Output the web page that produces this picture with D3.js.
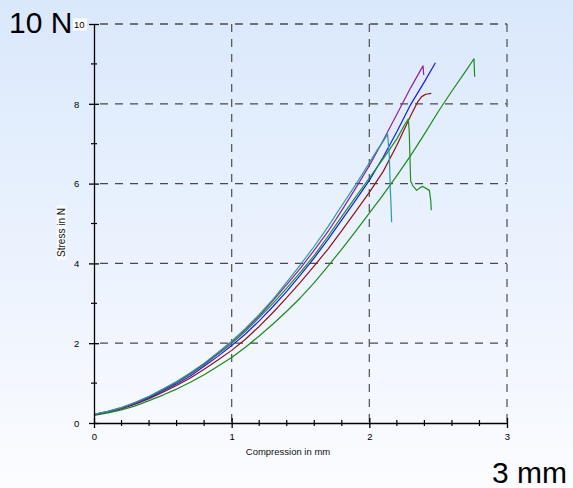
<!DOCTYPE html>
<html>
<head>
<meta charset="utf-8">
<script src="https://cdn.jsdelivr.net/npm/d3@7"></script>
<style>
  html, body { margin: 0; padding: 0; }
  svg { display: block; }
  text { font-family: "Liberation Sans", Arial, sans-serif; }
</style>
</head>
<body>
<svg id="chart" width="573" height="488"></svg>
<script>
// Axis ticks and labels
const xTicks = [0, 1, 2, 3];
const yTicks = [0, 2, 4, 6, 8, 10];
const xMinorStep = 0.2;
const yMinorStep = 1;
const xTitle = "Compression  in mm";
const yTitle = "Stress in N";
const yUnitLabel = "10 N";
const xUnitLabel = "3 mm";

// Force–compression curves, [mm, N]
const tealCurve = [[0,0.22],[0.1,0.29],[0.2,0.39],[0.3,0.52],[0.4,0.67],[0.5,0.85],[0.6,1.04],[0.7,1.26],[0.8,1.5],[0.9,1.77],[1.0,2.05],[1.1,2.37],[1.2,2.72],[1.3,3.1],[1.4,3.53],[1.5,3.97],[1.6,4.43],[1.7,4.92],[1.8,5.45],[1.9,5.97],[2.0,6.52],[2.06,6.86],[2.1,7.05],[2.133,7.24],[2.145,6.7],[2.152,5.9],[2.157,5.5],[2.162,5.03]];
const purpleCurve = [[0,0.22],[0.1,0.29],[0.2,0.38],[0.3,0.51],[0.4,0.66],[0.5,0.84],[0.6,1.03],[0.7,1.24],[0.8,1.48],[0.9,1.75],[1.0,2.03],[1.1,2.34],[1.2,2.68],[1.3,3.07],[1.4,3.47],[1.5,3.88],[1.6,4.33],[1.7,4.8],[1.8,5.33],[1.9,5.88],[2.0,6.45],[2.1,7.08],[2.2,7.74],[2.3,8.4],[2.39,8.95],[2.395,8.72]];
const green2Curve = [[0,0.21],[0.1,0.28],[0.2,0.38],[0.3,0.5],[0.4,0.65],[0.5,0.83],[0.6,1.01],[0.7,1.22],[0.8,1.46],[0.9,1.72],[1.0,1.99],[1.1,2.3],[1.2,2.64],[1.3,3.0],[1.4,3.38],[1.5,3.78],[1.6,4.2],[1.7,4.68],[1.8,5.18],[1.9,5.66],[2.0,6.14],[2.1,6.62],[2.2,7.12],[2.26,7.5],[2.283,7.62],[2.29,7.3],[2.295,6.66],[2.3,6.07],[2.315,5.95],[2.344,5.83],[2.37,5.9],[2.388,5.93],[2.412,5.88],[2.436,5.83],[2.446,5.58],[2.45,5.33]];
const blueCurve = [[0,0.21],[0.1,0.28],[0.2,0.37],[0.3,0.49],[0.4,0.63],[0.5,0.8],[0.6,0.98],[0.7,1.18],[0.8,1.42],[0.9,1.67],[1.0,1.94],[1.1,2.23],[1.2,2.56],[1.3,2.92],[1.4,3.3],[1.5,3.71],[1.6,4.14],[1.7,4.6],[1.8,5.09],[1.9,5.58],[2.0,6.08],[2.1,6.66],[2.2,7.3],[2.3,7.98],[2.4,8.55],[2.48,9.03]];
const redCurve = [[0,0.2],[0.1,0.27],[0.2,0.36],[0.3,0.47],[0.4,0.61],[0.5,0.77],[0.6,0.94],[0.7,1.13],[0.8,1.35],[0.9,1.58],[1.0,1.82],[1.1,2.1],[1.2,2.42],[1.3,2.77],[1.4,3.14],[1.5,3.53],[1.6,3.94],[1.7,4.36],[1.8,4.82],[1.9,5.3],[2.0,5.78],[2.1,6.3],[2.2,6.96],[2.3,7.7],[2.35,8.04],[2.38,8.18],[2.41,8.24],[2.45,8.26]];
const green1Curve = [[0,0.19],[0.1,0.25],[0.2,0.33],[0.3,0.43],[0.4,0.56],[0.5,0.7],[0.6,0.85],[0.7,1.02],[0.8,1.21],[0.9,1.42],[1.0,1.64],[1.1,1.9],[1.2,2.18],[1.3,2.48],[1.4,2.8],[1.5,3.14],[1.6,3.52],[1.7,3.93],[1.8,4.36],[1.9,4.8],[2.0,5.26],[2.1,5.72],[2.2,6.2],[2.3,6.7],[2.4,7.24],[2.5,7.8],[2.6,8.32],[2.7,8.82],[2.76,9.13],[2.765,8.68]];

const seriesList = [
  { pts: green1Curve, color: "#1a8a1a" },
  { pts: redCurve,    color: "#8e1212" },
  { pts: blueCurve,   color: "#1a1af0" },
  { pts: green2Curve, color: "#1d901d" },
  { pts: purpleCurve, color: "#8e209e" },
  { pts: tealCurve,   color: "#2a9e9e" }
];

const W = 573, H = 488;
const svg = d3.select("#chart");

// background gradient
const defs = svg.append("defs");
const grad = defs.append("linearGradient").attr("id", "bg")
  .attr("x1", 0).attr("y1", 0).attr("x2", 0).attr("y2", 1);
grad.append("stop").attr("offset", "0%").attr("stop-color", "#dae8fc");
grad.append("stop").attr("offset", "100%").attr("stop-color", "#fbfcff");
svg.append("rect").attr("width", W).attr("height", H).attr("fill", "url(#bg)");

const x = d3.scaleLinear().domain([0, 3]).range([94, 507]);
const y = d3.scaleLinear().domain([0, 10]).range([423, 24]);

// dashed grid
const grid = svg.append("g")
  .attr("stroke", "#4a4a4a").attr("stroke-width", 1.3)
  .attr("stroke-dasharray", "8,7");
grid.selectAll(".gh").data(yTicks.filter(d => d > 0)).join("line")
  .attr("x1", x(0)).attr("x2", x(3))
  .attr("y1", d => y(d)).attr("y2", d => y(d))
  .attr("stroke-dashoffset", 9);
grid.selectAll(".gv").data(xTicks.filter(d => d > 0)).join("line")
  .attr("y1", y(10)).attr("y2", y(0) + 4)
  .attr("x1", d => x(d)).attr("x2", d => x(d))
  .attr("stroke", "#5a5a5a");

// curves
const line = d3.line().x(d => x(d[0])).y(d => y(d[1]));
svg.append("g").selectAll("path").data(seriesList).join("path")
  .attr("d", d => line(d.pts))
  .attr("fill", "none")
  .attr("stroke", d => d.color)
  .attr("stroke-width", 1.2)
  .attr("stroke-linejoin", "round");

// x axis
const xMinorVals = x.ticks(15).filter(v => Math.abs(v / xMinorStep - Math.round(v / xMinorStep)) < 1e-6);
const xAxis = svg.append("g").attr("transform", `translate(0,${y(0)})`)
  .call(d3.axisBottom(x).tickValues(xTicks).tickFormat(d3.format("d")).tickSizeOuter(0));
xAxis.select(".domain").attr("stroke", "#000").attr("stroke-width", 1.3);
xAxis.selectAll(".tick line").attr("y1", -5).attr("y2", 5).attr("stroke", "#000").attr("stroke-width", 1.3);
xAxis.selectAll(".tick text").attr("y", 17).attr("dy", 0).attr("font-size", 9.5).attr("fill", "#000")
  .style("font-family", "Liberation Sans, Arial, sans-serif");
xAxis.selectAll(".minor").data(xMinorVals.filter(v => !xTicks.includes(Math.round(v * 1000) / 1000))).join("line")
  .attr("x1", d => x(d)).attr("x2", d => x(d)).attr("y1", -3).attr("y2", 3)
  .attr("stroke", "#000").attr("stroke-width", 1.2);

// y axis
const yMinorVals = d3.range(0, 10 + 1e-9, yMinorStep).filter(v => !yTicks.includes(v));
const yAxis = svg.append("g").attr("transform", `translate(${x(0)},0)`)
  .call(d3.axisLeft(y).tickValues(yTicks).tickFormat(d3.format("d")).tickSizeOuter(0));
yAxis.select(".domain").attr("stroke", "#000").attr("stroke-width", 1.3);
yAxis.selectAll(".tick line").attr("x1", -5).attr("x2", 5).attr("stroke", "#000").attr("stroke-width", 1.3);
yAxis.selectAll(".tick").each(function (d) {
  const g = d3.select(this);
  if (d === 10) {
    g.insert("rect", "text").attr("x", -21).attr("y", -6).attr("width", 14).attr("height", 12).attr("fill", "#ffffff");
  }
});
yAxis.selectAll(".tick text").attr("x", -20).attr("dy", "0.34em").attr("text-anchor", "start")
  .attr("font-size", 9.5).attr("fill", "#000")
  .style("font-family", "Liberation Sans, Arial, sans-serif");
yAxis.selectAll(".minor").data(yMinorVals).join("line")
  .attr("y1", d => y(d)).attr("y2", d => y(d)).attr("x1", -3).attr("x2", 3)
  .attr("stroke", "#000").attr("stroke-width", 1.2);

// axis titles
svg.append("text").attr("x", 288).attr("y", 455).attr("text-anchor", "middle")
  .attr("font-size", 9.5).attr("fill", "#111").text(xTitle);
const yt = svg.append("g").attr("transform", "translate(61.5,232.5) rotate(-90)");
yt.append("rect").attr("x", -27).attr("y", -5).attr("width", 54).attr("height", 10).attr("fill", "#ffffff").attr("opacity", 0.7);
yt.append("text").attr("x", 0).attr("y", 0).attr("dy", "0.35em").attr("text-anchor", "middle")
  .attr("font-size", 10).attr("fill", "#111").text(yTitle);

// unit labels
svg.append("text").attr("x", 9).attr("y", 33).attr("font-size", 30).attr("fill", "#000").text(yUnitLabel);
svg.append("text").attr("x", 492).attr("y", 483).attr("font-size", 30).attr("fill", "#000").text(xUnitLabel);
</script>
</body>
</html>
